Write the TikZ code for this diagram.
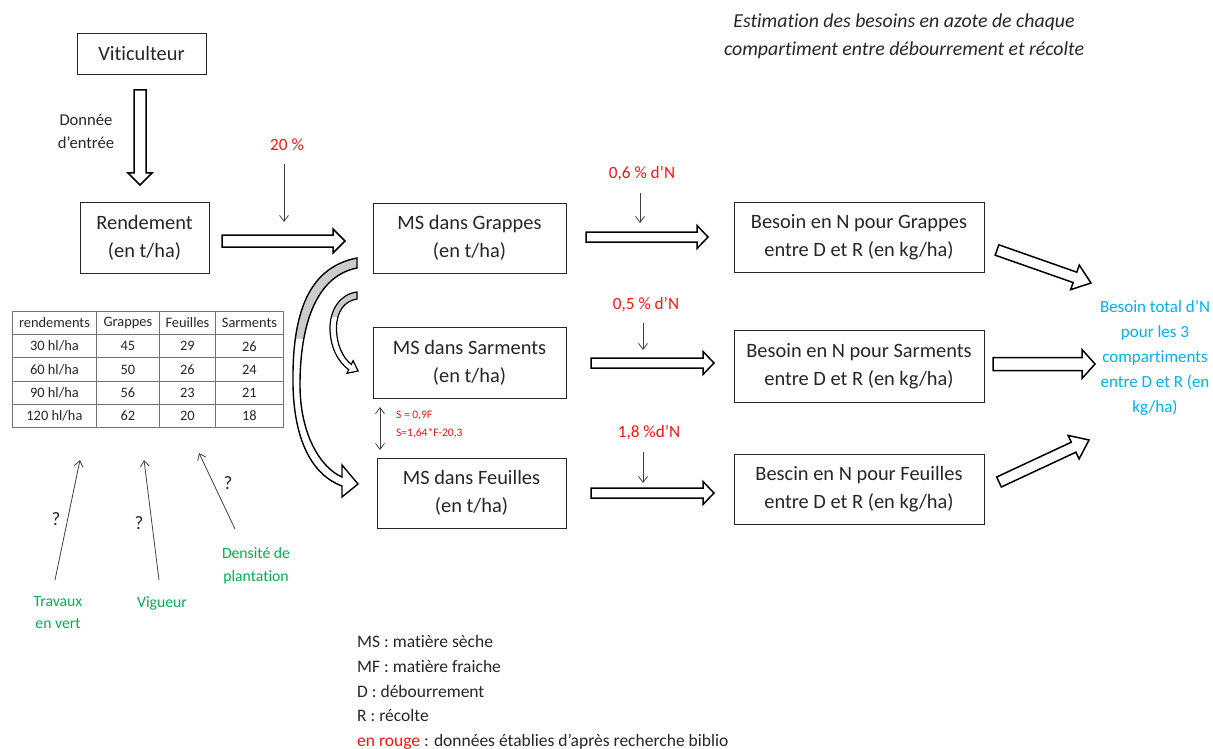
\documentclass[tikz,border=0pt]{standalone}
\usepackage{fontspec}
\setmainfont{Carlito}[Ligatures={NoCommon}]
\usetikzlibrary{arrows.meta,calc,matrix}
\definecolor{txt}{RGB}{38,38,38}
\definecolor{myred}{RGB}{255,20,20}
\definecolor{mygreen}{RGB}{0,176,80}
\definecolor{myblue}{RGB}{0,176,240}
% tail, tip, shaft half width, head half width, head length
\newcommand\blkarrow[5]{%
  \path ($(#2)!#5!(#1)$) coordinate (bah);
  \draw[blockarr] ($(#1)!#3!90:(#2)$) -- ($(bah)!#3!-90:(#1)$) -- ($(bah)!#4!-90:(#1)$) -- (#2)
    -- ($(bah)!#4!90:(#1)$) -- ($(bah)!#3!90:(#1)$) -- ($(#1)!#3!-90:(#2)$) -- cycle;
}
\begin{document}
\begin{tikzpicture}[x=1pt,y=-1pt,
  box/.style={draw=black!85, line width=0.9pt, align=center, text=txt,
    font=\fontsize{20.4}{28}\selectfont, inner sep=0pt},
  blockarr/.style={draw=black, line width=1.5pt, fill=white, line join=miter},
  thinarr/.style={draw=black!75, line width=0.8pt, -{Straight Barb[length=6pt,width=9pt]}},
  dblarr/.style={draw=black!75, line width=0.8pt, {Straight Barb[length=6pt,width=9pt]}-{Straight Barb[length=6pt,width=9pt]}},
  lbl/.style={align=center, inner sep=0pt, text=txt},
  redlbl/.style={align=center, inner sep=0pt, text=myred, font=\fontsize{17.2}{20}\selectfont},
  greenlbl/.style={align=center, inner sep=0pt, text=mygreen, font=\fontsize{15.7}{22.5}\selectfont},
  qmark/.style={inner sep=0pt, text=txt, font=\fontsize{19}{20}\selectfont},
  curvearr/.style={draw=black, line width=1.4pt, line join=miter},
]
\useasboundingbox (0,0) rectangle (1213,749);
\fill[white] (0,0) rectangle (1213,749);

% title
\node[lbl, font=\fontsize{19.8}{28}\selectfont\itshape] (title) at (904,36)
  {Estimation des besoins en azote de chaque\\compartiment entre débourrement et récolte};

% boxes
\node[box, minimum width=129, minimum height=41] (vit) at (141.5,53.5) {Viticulteur};
\node[box, minimum width=129, minimum height=71] (rend) at (144.5,237.5) {Rendement\\(en t/ha)};
\node[box, minimum width=193, minimum height=70] (msg) at (469.5,238) {MS dans Grappes\\(en t/ha)};
\node[box, minimum width=193, minimum height=71] (mss) at (469.5,362.5) {MS dans Sarments\\(en t/ha)};
\node[box, minimum width=189, minimum height=70] (msf) at (471.5,493) {MS dans Feuilles\\(en t/ha)};
\node[box, minimum width=250, minimum height=70] (bg) at (859,237) {Besoin en N pour Grappes\\entre D et R (en kg/ha)};
\node[box, minimum width=250, minimum height=72] (bs) at (859,366) {Besoin en N pour Sarments\\entre D et R (en kg/ha)};
\node[box, minimum width=250, minimum height=70] (bf) at (859,489) {Bescin en N pour Feuilles\\entre D et R (en kg/ha)};

% total
\node[lbl, text=myblue, font=\fontsize{17}{25}\selectfont] (tot) at (1155,358)
  {Besoin total d’N\\pour les 3\\compartiments\\entre D et R (en\\kg/ha)};

% input label
\node[lbl, font=\fontsize{16.6}{23}\selectfont] (don) at (86,131.5) {Donnée\\d’entrée};

% red labels
\node[redlbl] (p20) at (287,145) {20 \%};
\node[redlbl] (p06) at (642,174) {0,6 \% d’N};
\node[redlbl] (p05) at (646,305) {0,5 \% d’N};
\node[redlbl] (p18) at (649,433) {1,8 \%d’N};
\node[inner sep=0pt, text=myred, font=\fontsize{11.5}{14}\selectfont, anchor=west] (eq1) at (396,416) {S = 0,9F};
\node[inner sep=0pt, text=myred, font=\fontsize{11.5}{14}\selectfont, anchor=west] (eq2) at (396,433) {S=1,64*F-20,3};

% block arrows
\coordinate (d1) at (140,90);   \coordinate (d2) at (140,185);
\coordinate (r1) at (222,241);  \coordinate (r2) at (345,241);
\coordinate (g1) at (586,237);  \coordinate (g2) at (708,237);
\coordinate (s1) at (591,363);  \coordinate (s2) at (714,363);
\coordinate (f1) at (591,493);  \coordinate (f2) at (714,493);
\coordinate (t1a) at (997,250); \coordinate (t1b) at (1091,283);
\coordinate (t2a) at (993,364); \coordinate (t2b) at (1095,364);
\coordinate (t3a) at (999,482); \coordinate (t3b) at (1089,440);
\blkarrow{d1}{d2}{6pt}{12pt}{12pt}
\blkarrow{r1}{r2}{6pt}{12pt}{12pt}
\blkarrow{g1}{g2}{5pt}{11.5pt}{11pt}
\blkarrow{s1}{s2}{5pt}{11.5pt}{11pt}
\blkarrow{f1}{f2}{5pt}{11.5pt}{11pt}
\blkarrow{t1a}{t1b}{5.5pt}{13pt}{17pt}
\blkarrow{t2a}{t2b}{6.5pt}{14.5pt}{13pt}
\blkarrow{t3a}{t3b}{5.5pt}{13pt}{17pt}

% thin percentage arrows
\coordinate (a20a) at (284,164); \coordinate (a20b) at (284,222);
\coordinate (a06a) at (640,193); \coordinate (a06b) at (640,223);
\coordinate (a05a) at (643,323); \coordinate (a05b) at (643,350);
\coordinate (a18a) at (643,452); \coordinate (a18b) at (643,483);
\draw[thinarr] (a20a) -- (a20b);
\draw[thinarr] (a06a) -- (a06b);
\draw[thinarr] (a05a) -- (a05b);
\draw[thinarr] (a18a) -- (a18b);

% double arrow between Sarments and Feuilles
\coordinate (sf1) at (380,407); \coordinate (sf2) at (380,450);
\draw[dblarr] (sf1) -- (sf2);

% big curved arrow (Grappes -> Feuilles)
\def\bigband{(357,258) .. controls (305,268) and (292,320) .. (293,385)
  .. controls (294,440) and (312,475) .. (342,486) -- (342,497) -- (358,484) -- (342,465) -- (342,477)
  .. controls (321,468) and (300,435) .. (300,385) .. controls (300,325) and (316,276) .. (357,268) -- cycle}
\fill[white] \bigband;
\begin{scope}
  \clip (280,250) rectangle (365,338);
  \fill[gray!40] \bigband;
\end{scope}
\draw[curvearr] \bigband;

% small curved arrow (Grappes -> Sarments)
\def\smallband{(357,292) .. controls (340,294) and (330,310) .. (330,328)
  .. controls (330,347) and (338,362) .. (348.7,369.7) -- (346.9,373.3) -- (358.1,371) -- (353.1,360.7) -- (351.3,364.3)
  .. controls (343,358) and (336.5,345) .. (336.5,328) .. controls (336.5,312) and (344,301) .. (357,299) -- cycle}
\fill[white] \smallband;
\begin{scope}
  \clip (320,285) rectangle (365,316);
  \fill[gray!40] \smallband;
\end{scope}
\draw[curvearr, line width=1.2pt] \smallband;

% table
\matrix (tab) [matrix of nodes, anchor=north west, inner sep=0pt, outer sep=0pt,
  column sep=-0.9pt, row sep=-0.9pt,
  nodes={draw=black!55, line width=0.9pt, minimum height=23.2, inner sep=1pt, anchor=center,
    text=txt, font=\fontsize{14.4}{16}\selectfont},
  column 1/.style={nodes={minimum width=84}},
  column 2/.style={nodes={minimum width=63}},
  column 3/.style={nodes={minimum width=56}},
  column 4/.style={nodes={minimum width=68}}] at (12,311) {
  rendements & Grappes & Feuilles & Sarments \\
  30 hl/ha & 45 & 29 & 26 \\
  60 hl/ha & 50 & 26 & 24 \\
  90 hl/ha & 56 & 23 & 21 \\
  120 hl/ha & 62 & 20 & 18 \\
};

% influences
\node[greenlbl] (trav) at (58,612.5) {Travaux\\en vert};
\node[greenlbl] (vig) at (162,603) {Vigueur};
\node[greenlbl] (dens) at (256,566) {Densité de\\plantation};
\coordinate (i1a) at (55,580);  \coordinate (i1b) at (80,460);
\coordinate (i2a) at (159,580); \coordinate (i2b) at (144,460);
\coordinate (i3a) at (235,529); \coordinate (i3b) at (199,453);
\draw[thinarr] (i1a) -- (i1b);
\draw[thinarr] (i2a) -- (i2b);
\draw[thinarr] (i3a) -- (i3b);
\node[qmark] (q1) at (56,519) {?};
\node[qmark] (q2) at (139,523) {?};
\node[qmark] (q3) at (228,483) {?};

% legend
\node[lbl, anchor=west, align=left, font=\fontsize{17.5}{24.75}\selectfont] (leg) at (357,692.5)
  {MS : matière sèche\\MF : matière fraiche\\D : débourrement\\R : récolte\\\textcolor{myred}{en rouge} : données établies d’après recherche biblio};
\end{tikzpicture}
\end{document}
